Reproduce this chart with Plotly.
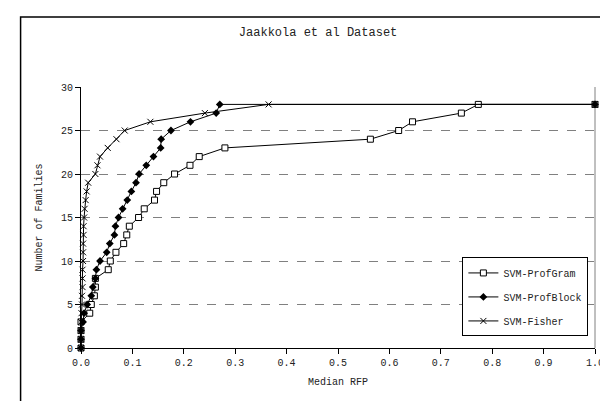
import plotly.graph_objects as go

families = list(range(0, 29)) + [28]

profgram_rfp = [0.0, 0.0, 0.0, 0.0, 0.017, 0.020, 0.026, 0.028, 0.028, 0.053,
                0.057, 0.068, 0.083, 0.089, 0.094, 0.112, 0.123, 0.143, 0.147, 0.161,
                0.182, 0.212, 0.230, 0.280, 0.563, 0.618, 0.645, 0.740, 0.773, 1.0]

profblock_rfp = [0.0, 0.0, 0.0, 0.004, 0.006, 0.012, 0.020, 0.023, 0.028, 0.030,
                 0.037, 0.050, 0.056, 0.065, 0.067, 0.073, 0.081, 0.090, 0.098, 0.107,
                 0.113, 0.127, 0.141, 0.155, 0.156, 0.175, 0.213, 0.263, 0.270, 1.0]

fisher_rfp = [0.0, 0.0, 0.0, 0.0, 0.001, 0.002, 0.002, 0.003, 0.003, 0.003,
              0.004, 0.004, 0.004, 0.005, 0.005, 0.006, 0.007, 0.009, 0.011, 0.014,
              0.028, 0.032, 0.037, 0.052, 0.069, 0.085, 0.135, 0.241, 0.365, 1.0]

series_names = ["SVM-ProfGram", "SVM-ProfBlock", "SVM-Fisher"]
x_ticks = [0.0, 0.1, 0.2, 0.3, 0.4, 0.5, 0.6, 0.7, 0.8, 0.9, 1.0]
y_ticks = [0, 5, 10, 15, 20, 25, 30]

FONT = "Liberation Mono"
TXT = "#222222"

fig = go.Figure()
fig.add_trace(go.Scatter(
    x=profgram_rfp, y=families, name=series_names[0], mode="lines+markers",
    line=dict(color="black", width=1),
    marker=dict(symbol="square", size=6, color="white", line=dict(color="black", width=1)),
    cliponaxis=False, legendgroup="a"))
fig.add_trace(go.Scatter(
    x=profblock_rfp, y=families, name=series_names[1], mode="lines+markers",
    line=dict(color="black", width=1),
    marker=dict(symbol="diamond", size=6, color="black"),
    cliponaxis=False, legendgroup="b"))
fig.add_trace(go.Scatter(
    x=fisher_rfp, y=families, name=series_names[2], mode="lines+markers",
    line=dict(color="black", width=1),
    marker=dict(symbol="x-thin", size=6, color="black", line=dict(color="black", width=1)),
    cliponaxis=False, legendgroup="c"))

fig.update_layout(
    width=608, height=401,
    margin=dict(l=73, r=16, t=79, b=61),
    paper_bgcolor="white", plot_bgcolor="white",
    font=dict(family=FONT, size=10, color=TXT),
    title=dict(text="Jaakkola et al Dataset", x=0.51, xanchor="center", y=1 - 24 / 401,
               yanchor="middle", font=dict(family=FONT, size=12, color=TXT)),
    showlegend=True,
    legend=dict(x=0.742, y=0.347, xanchor="left", yanchor="top",
                bordercolor="black", borderwidth=1, bgcolor="white",
                font=dict(family=FONT, size=10, color=TXT),
                itemwidth=30, tracegroupgap=5, traceorder="grouped"),
    xaxis=dict(range=[0, 1], tickvals=x_ticks, ticktext=[f"{v:.1f}" for v in x_ticks],
               showgrid=False, zeroline=False, showline=True, linecolor="black", linewidth=1,
               ticks="outside", ticklen=5, tickcolor="black",
               title=dict(text="Median RFP", standoff=9, font=dict(family=FONT, size=10, color=TXT))),
    yaxis=dict(range=[0, 30], tickvals=y_ticks,
               showgrid=True, gridcolor="#808080", griddash="dash", gridwidth=1,
               zeroline=False, showline=True, linecolor="black", linewidth=1,
               ticks="outside", ticklen=5, tickcolor="black",
               title=dict(text="Number of Families", standoff=16,
                          font=dict(family=FONT, size=10, color=TXT))),
    shapes=[
        dict(type="rect", xref="paper", yref="paper",
             x0=(12 - 73) / 519, x1=(640 - 73) / 519,
             y0=(340 - 440) / 261, y1=(340 - 9) / 261,
             line=dict(color="black", width=1.5), fillcolor="rgba(0,0,0,0)", layer="below"),
        dict(type="line", xref="paper", yref="paper", x0=1, x1=1, y0=0, y1=1,
             line=dict(color="#808080", width=1), layer="below"),
    ],
)

fig.write_html("out.html")
